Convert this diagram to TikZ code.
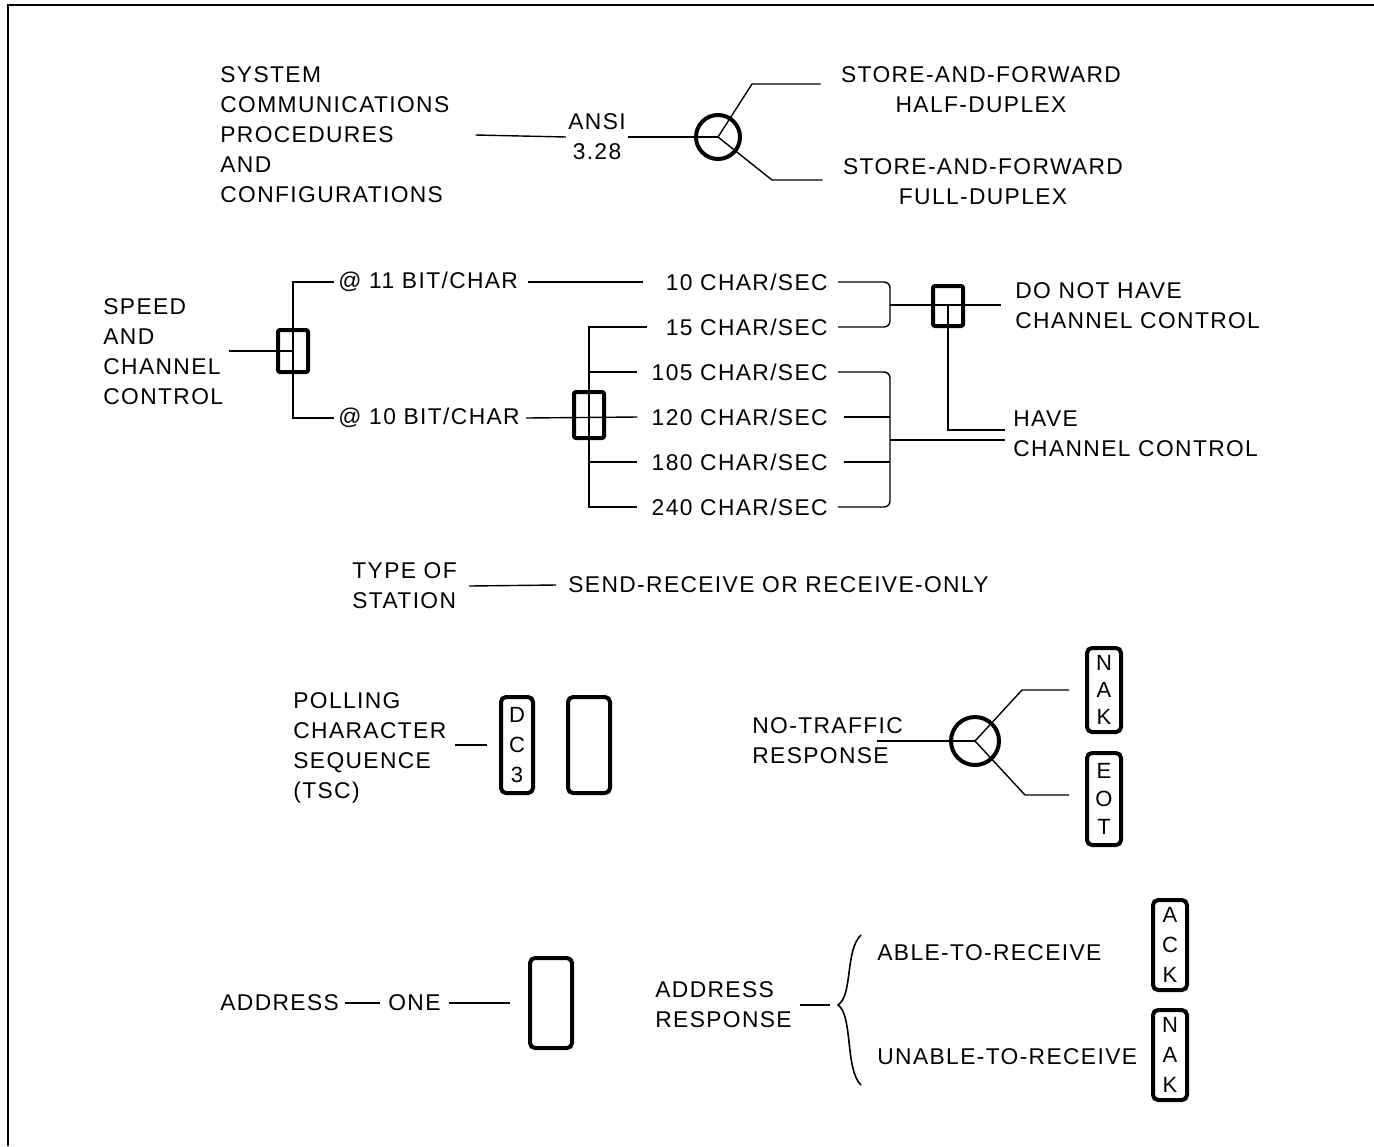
\documentclass[tikz,border=0pt]{standalone}
\usepackage{fontspec}
\setmainfont{Liberation Sans}[LetterSpace=6]
\usepackage{tikz}
\usetikzlibrary{positioning}

\begin{document}
\begin{tikzpicture}[
    x=0.5pt, y=-0.5pt,
    every node/.style={inner sep=0pt, font=\fontsize{11.4}{15}\selectfont},
    lbl/.style={anchor=west, align=left},
    rate/.style={anchor=east},
    conn/.style={line width=0.7pt},
    ring/.style={circle, draw, line width=2pt, minimum size=22pt},
    selbox/.style={rectangle, draw, line width=2pt, rounded corners=1pt, minimum width=15pt, minimum height=21pt},
    charbox/.style={rectangle, draw, line width=2pt, rounded corners=2.5pt, align=center, minimum width=17pt, minimum height=46pt, font=\fontsize{11}{14}\selectfont}
]
\useasboundingbox (0,0) rectangle (1374,1146);
\draw[line width=1pt] (8,1146) -- (8,5) -- (1374,5);

% Nodes
\node[lbl] (sys) at (220,135) {SYSTEM\\COMMUNICATIONS\\PROCEDURES\\AND\\CONFIGURATIONS};
\node[align=center] (ansi) at (597,137) {ANSI\\3.28};
\node[ring] (r1) at (718,137) {};
\coordinate (r1a) at (752,84);
\coordinate (r1b) at (772,180);
\node[align=center] (sfh) at (981,90) {STORE-AND-FORWARD\\HALF-DUPLEX};
\node[align=center] (sff) at (983,182) {STORE-AND-FORWARD\\FULL-DUPLEX};

\node[lbl] (spd) at (103,352) {SPEED\\AND\\CHANNEL\\CONTROL};
\node[selbox] (sel1) at (293,351) {};
\node[lbl] (b11) at (338,282) {@ 11 BIT/CHAR};
\node[lbl] (b10) at (338,418) {@ 10 BIT/CHAR};
\node[rate] (c10) at (828,282) {10 CHAR/SEC};
\node[rate] (c15) at (828,327) {15 CHAR/SEC};
\node[rate] (c105) at (828,372) {105 CHAR/SEC};
\node[rate] (c120) at (828,417) {120 CHAR/SEC};
\node[rate] (c180) at (828,462) {180 CHAR/SEC};
\node[rate] (c240) at (828,507) {240 CHAR/SEC};
\node[selbox, minimum height=23pt] (sel2) at (589,415) {};
\coordinate (br1) at (890,305);
\coordinate (br2) at (890,440);
\node[selbox, minimum height=20pt] (sel3) at (948,306) {};
\node[lbl] (dnh) at (1015,306) {DO NOT HAVE\\CHANNEL CONTROL};
\node[lbl] (hcc) at (1013,434) {HAVE\\CHANNEL CONTROL};

\node[lbl] (tos) at (352,586) {TYPE OF\\STATION};
\node[lbl] (sro) at (568,585) {SEND-RECEIVE OR RECEIVE-ONLY};

\node[lbl] (pcs) at (293,748) {POLLING\\CHARACTER\\SEQUENCE\\(TSC)};
\node[charbox, minimum width=16pt, minimum height=48pt, font=\fontsize{11}{15}\selectfont] (dc3) at (517,745) {D\\C\\3};
\node[charbox, minimum width=21pt, minimum height=48pt] (blank) at (589,745) {};
\node[lbl] (ntr) at (752,741) {NO-TRAFFIC\\RESPONSE};
\node[ring, minimum size=24pt] (r2) at (975,741) {};
\coordinate (r2a) at (1022,690);
\coordinate (r2b) at (1025,795);
\node[charbox, minimum height=42pt, font=\fontsize{11}{13.5}\selectfont] (nak1) at (1104,690) {N\\A\\K};
\node[charbox, minimum height=46pt] (eot) at (1104,799) {E\\O\\T};

\node[lbl] (addr) at (220,1003) {ADDRESS};
\node[lbl] (one) at (388,1003) {ONE};
\node[charbox, minimum width=21pt, minimum height=45pt] (abox) at (551,1003) {};
\node[lbl] (ares) at (655,1005) {ADDRESS\\RESPONSE};
\coordinate (tip) at (838,1005);
\node[lbl] (able) at (877,953) {ABLE-TO-RECEIVE};
\node[lbl] (unable) at (877,1057) {UNABLE-TO-RECEIVE};
\node[charbox, minimum height=45pt, font=\fontsize{11}{15}\selectfont] (ack) at (1170,945) {A\\C\\K};
\node[charbox, minimum height=45pt, font=\fontsize{11}{15}\selectfont] (nak2) at (1170,1055) {N\\A\\K};

% Lines
\draw[conn] ([xshift=13pt]sys.east) -- ([xshift=-1pt]ansi.west);
\draw[conn] ([xshift=1pt]ansi.east) -- (r1.center);
\draw[conn] (r1.center) -- (r1a) -- ([xshift=-10pt]sfh.west |- r1a);
\draw[conn] (r1.center) -- (r1b) -- ([xshift=-10pt]sff.west |- r1b);

\draw[conn] ([xshift=3pt]spd.east |- sel1) -- (sel1.center);
\draw[conn] ([xshift=-2pt]b11.west) -| (sel1.center) |- ([xshift=-2pt]b10.west);
\draw[conn] ([xshift=5pt]b11.east) -- ([xshift=-11pt]c10.west);
\draw[conn] ([xshift=3pt]b10.east) -- ([xshift=-7pt]c120.west);
\draw[conn] ([xshift=-9pt]c15.west) -| (sel2.center) |- ([xshift=-7pt]c240.west);
\foreach \c in {c105,c180}
    \draw[conn] (sel2.center |- \c) -- ([xshift=-7pt]\c.west);
\draw[conn, rounded corners=3pt] ([xshift=5pt]c10.east) -| (br1) |- ([xshift=5pt]c15.east);
\draw[conn] (br1) -- ([xshift=-7pt]dnh.west |- br1);
\draw[conn] (sel3.center) |- ([xshift=-4pt,yshift=2pt]hcc.west);
\draw[conn, rounded corners=3pt] ([xshift=5pt]c105.east) -| (br2) |- ([xshift=5pt]c240.east);
\foreach \c in {c120,c180}
    \draw[conn] ([xshift=8pt]\c.east) -- (br2 |- \c);
\draw[conn] (br2) -- ([xshift=-4pt]hcc.west |- br2);

\draw[conn] ([xshift=6pt]tos.east) -- ([xshift=-6pt]sro.west);

\draw[conn] ([xshift=4pt]pcs.east |- dc3) -- ([xshift=-6pt]dc3.west);
\draw[conn] ([xshift=-13pt]ntr.east) -- (r2.center);
\draw[conn] (r2.center) -- (r2a) -- ([xshift=-8pt]nak1.west |- r2a);
\draw[conn] (r2.center) -- (r2b) -- ([xshift=-8pt]eot.west |- r2b);

\draw[conn] ([xshift=3pt]addr.east) -- ([xshift=-4pt]one.west);
\draw[conn] ([xshift=4pt]one.east) -- ([xshift=-9pt]abox.west);
\draw[conn] ([xshift=4pt]ares.east) -- ([xshift=-4pt]tip);
\draw[line width=0.8pt] (861,935) .. controls (845,950) and (853,995) .. (tip)
    .. controls (853,1015) and (845,1070) .. (861,1085);

\end{tikzpicture}
\end{document}
